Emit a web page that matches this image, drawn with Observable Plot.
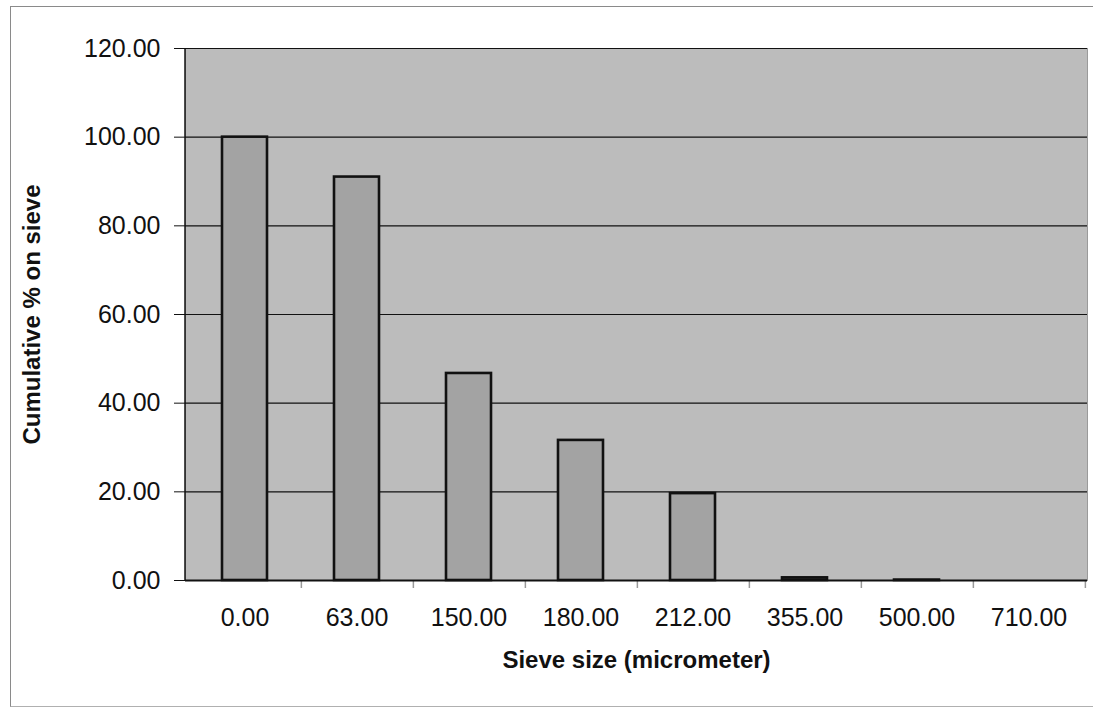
<!DOCTYPE html>
<html>
<head>
<meta charset="utf-8">
<script src="https://cdn.jsdelivr.net/npm/d3@7"></script>
<script src="https://cdn.jsdelivr.net/npm/@observablehq/plot@0.6"></script>
<style>
  html, body { margin: 0; padding: 0; background: #fff; }
  #wrap { position: relative; width: 1093px; height: 710px; }
  #border { position: absolute; left: 10px; top: 6px; width: 1090px; height: 699px;
            border-left: 1.5px solid #8a8a8a; border-top: 1.5px solid #8a8a8a;
            border-bottom: 1.5px solid #b0b0b0; pointer-events: none; }
  svg { display: block; }
</style>
</head>
<body>
<div id="wrap"><div id="border"></div></div>
<script>
// Sieve analysis: cumulative percentage retained per sieve size
const sieveSizes = ["0.00", "63.00", "150.00", "180.00", "212.00", "355.00", "500.00", "710.00"];
const cumulativePct = [100.0, 91.0, 46.7, 31.6, 19.6, 0.6, 0.1, 0.0];
const yTicks = [0, 20, 40, 60, 80, 100, 120];

const data = sieveSizes.map((s, i) => ({size: s, pct: cumulativePct[i]}));

const W = 1093, H = 710;
const margin = {left: 185, right: 6, top: 48, bottom: 130};
const step = (W - margin.left - margin.right) / sieveSizes.length;

const font = "Liberation Sans, Arial, Helvetica, sans-serif";
const fs = 25;

const chart = Plot.plot({
  width: W,
  height: H,
  marginLeft: margin.left,
  marginRight: margin.right,
  marginTop: margin.top,
  marginBottom: margin.bottom,
  style: {fontFamily: font, fontSize: fs + "px", color: "#111", background: "transparent"},
  x: {domain: sieveSizes, paddingInner: 0.6, paddingOuter: 0.3, label: null},
  y: {domain: [0, 120], ticks: yTicks, label: null},
  marks: [
    Plot.frame({fill: "#bcbcbc", stroke: "#9a9a9a"}),
    Plot.gridY(yTicks, {stroke: "#111", strokeOpacity: 1, strokeWidth: 1.2}),
    Plot.barY(data, {x: "size", y: "pct", fill: "#a3a3a3", stroke: "#111", strokeWidth: 2.6}),
    Plot.axisY(yTicks, {
      tickSize: 11, tickPadding: 14, stroke: "#111",
      tickFormat: d => d.toFixed(2), fontSize: fs, label: null
    }),
    Plot.axisX({tickSize: 0, tickPadding: 28, fontSize: fs, label: null}),
    // small tick marks between categories along the baseline
    Plot.ruleX(sieveSizes, {x: d => d, y1: 0, y2: 0, dx: step / 2, insetBottom: -8, stroke: "#999", strokeWidth: 1.5}),
    Plot.ruleY([0], {stroke: "#111", strokeWidth: 1.8}),
    Plot.text(["Sieve size (micrometer)"], {
      frameAnchor: "bottom", dy: 87, fontWeight: "bold", fontSize: 24, fill: "#111"
    }),
    Plot.text(["Cumulative % on sieve"], {
      frameAnchor: "left", textAnchor: "middle", dx: -153, rotate: -90,
      fontWeight: "bold", fontSize: 24, fill: "#111"
    })
  ]
});

// vertical axis line on the left edge of the plot area
d3.select(chart).append("line")
  .attr("x1", margin.left).attr("x2", margin.left)
  .attr("y1", margin.top).attr("y2", H - margin.bottom)
  .attr("stroke", "#111").attr("stroke-width", 1.5);

document.getElementById("wrap").prepend(chart);
</script>
</body>
</html>
